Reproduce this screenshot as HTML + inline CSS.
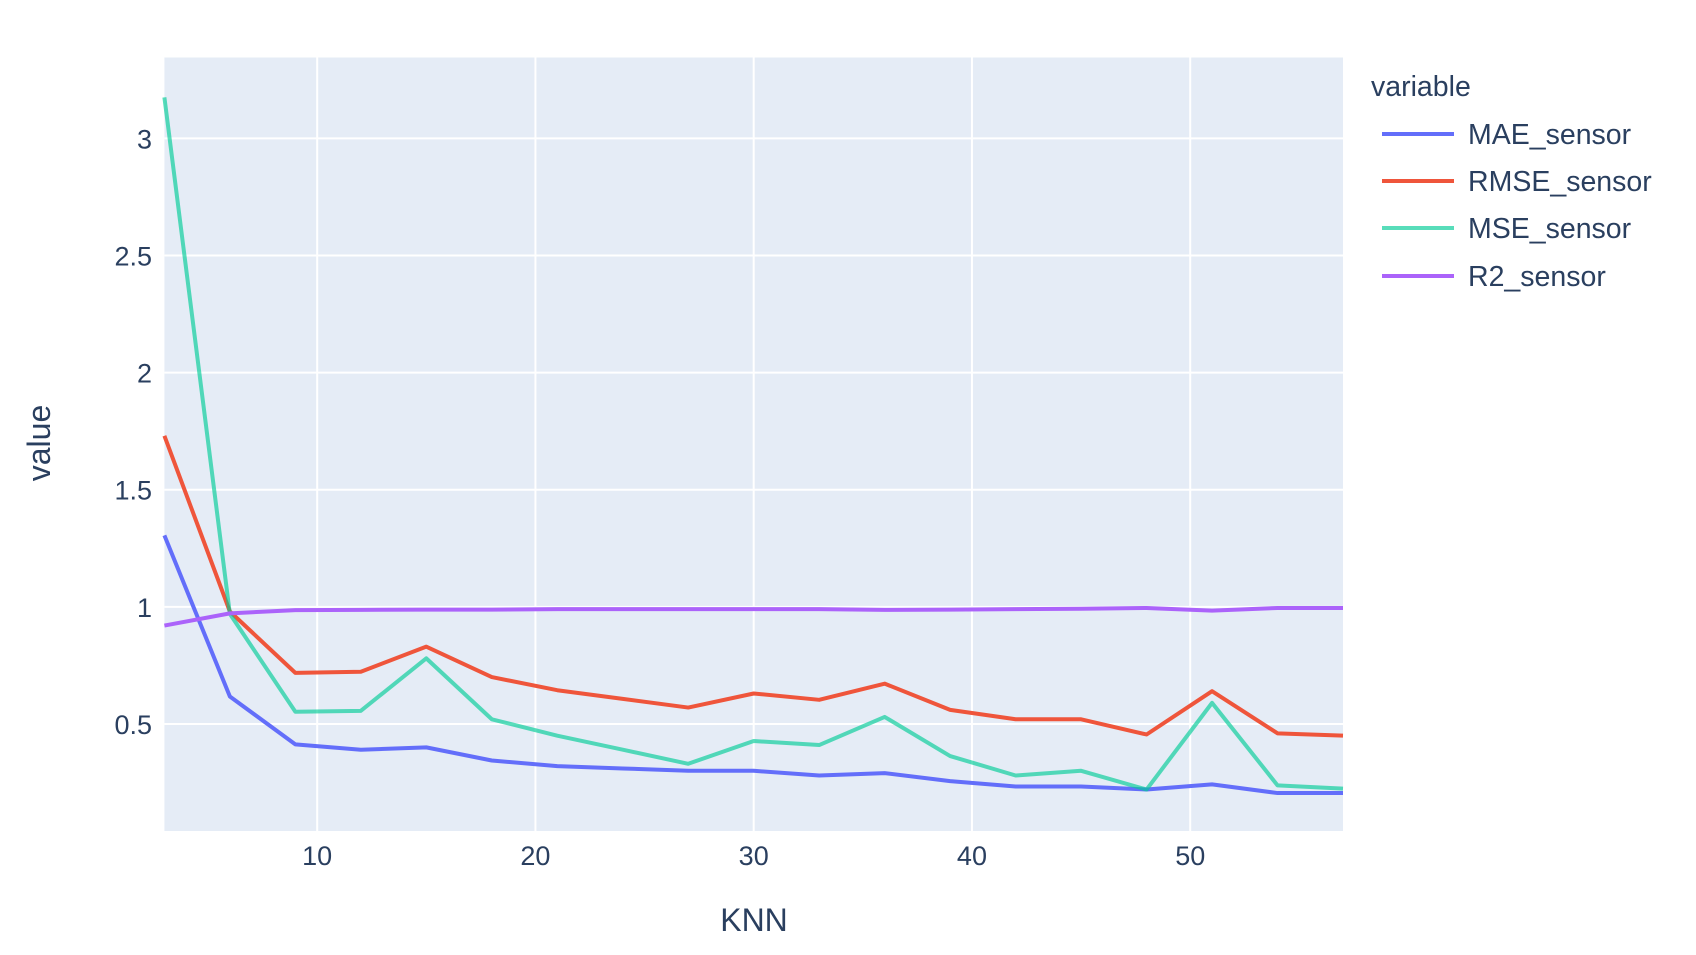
<!DOCTYPE html>
<html><head><meta charset="utf-8"><style>
html,body{margin:0;padding:0;background:#fff;}
svg text{font-family:"Liberation Sans",sans-serif;fill:#2a3f5f;}
</style></head><body>
<svg id="chart" width="1696" height="950" viewBox="0 0 1696 950" xmlns="http://www.w3.org/2000/svg">
<rect x="164.4" y="57.5" width="1178.6" height="773.5" fill="#E5ECF6"/>
<g id="grid"></g>
<g id="lines"></g>
<g id="ticks"></g>
<text x="0" y="0" transform="translate(50,443) rotate(-90)" text-anchor="middle" font-size="32">value</text>
<text x="754" y="931" text-anchor="middle" font-size="32">KNN</text>
<g id="legend"></g>
</svg>
<script>
const knn = [3,6,9,12,15,18,21,24,27,30,33,36,39,42,45,48,51,54,57];
const maeSensor = [1.305,0.617,0.413,0.39,0.40,0.344,0.32,0.31,0.30,0.30,0.28,0.29,0.256,0.233,0.233,0.22,0.242,0.205,0.205];
const rmseSensor = [1.73,0.98,0.718,0.723,0.83,0.70,0.644,0.607,0.57,0.63,0.603,0.672,0.56,0.52,0.52,0.455,0.64,0.46,0.45];
const mseSensor = [3.175,0.97,0.552,0.556,0.78,0.52,0.45,0.39,0.33,0.427,0.41,0.53,0.363,0.28,0.30,0.22,0.59,0.238,0.224];
const r2Sensor = [0.92,0.972,0.986,0.987,0.988,0.988,0.99,0.99,0.99,0.99,0.99,0.987,0.988,0.99,0.992,0.995,0.984,0.995,0.995];
const seriesNames = ["MAE_sensor","RMSE_sensor","MSE_sensor","R2_sensor"];
const xTicks = [10,20,30,40,50];
const yTicks = [0.5,1,1.5,2,2.5,3];
const yTickLabels = ["0.5","1","1.5","2","2.5","3"];

const NS="http://www.w3.org/2000/svg";
const X0=164.4,X1=1343,Y0=831,Y1=57.5;
const xMin=3,xMax=57,yMin=0.043,yMax=3.345;
const xs=v=>X0+(v-xMin)/(xMax-xMin)*(X1-X0);
const ys=v=>Y0-(v-yMin)/(yMax-yMin)*(Y0-Y1);
function mk(tag,attrs,parent){const e=document.createElementNS(NS,tag);for(const k in attrs)e.setAttribute(k,attrs[k]);parent.appendChild(e);return e;}
const grid=document.getElementById('grid'),ticks=document.getElementById('ticks'),lines=document.getElementById('lines'),legend=document.getElementById('legend');
xTicks.forEach(t=>{
  const l=mk('line',{x1:xs(t),x2:xs(t),y1:Y1,y2:Y0,stroke:'#fff','stroke-width':2},grid);
  
  
  const tx=mk('text',{x:xs(t),y:865,'text-anchor':'middle','font-size':27},ticks);
  tx.textContent=t;
  
  
});
yTicks.forEach((t,i)=>{
  const l=mk('line',{x1:X0,x2:X1,y1:ys(t),y2:ys(t),stroke:'#fff','stroke-width':2},grid);
  
  
  const tx=mk('text',{x:152,y:ys(t)+10,'text-anchor':'end','font-size':27},ticks);
  tx.textContent=yTickLabels[i];
  
  
});
const colors=['#636efa','#EF553B','#00cc96','#ab63fa'];
const data=[maeSensor,rmseSensor,mseSensor,r2Sensor];
data.forEach((d,i)=>{
  const p=mk('polyline',{points:d.map((v,j)=>xs(knn[j])+','+ys(v)).join(' '),fill:'none',stroke:colors[i],'stroke-width':4,'stroke-linejoin':'round',opacity:i==2?0.65:1},lines);
  
  
});
const lt=mk('text',{x:1371,y:96,'font-size':28.5},legend);
lt.textContent='variable';


const ly=[134,181,228,276];
seriesNames.forEach((n,i)=>{
  const g=mk('g',{},legend);
  
  
  mk('line',{x1:1382,x2:1454,y1:ly[i],y2:ly[i],stroke:colors[i],'stroke-width':4,opacity:i==2?0.65:1},g);
  const t=mk('text',{x:1468,y:ly[i]+10,'font-size':28.5},g);
  t.textContent=n;
});
</script>
</body></html>
